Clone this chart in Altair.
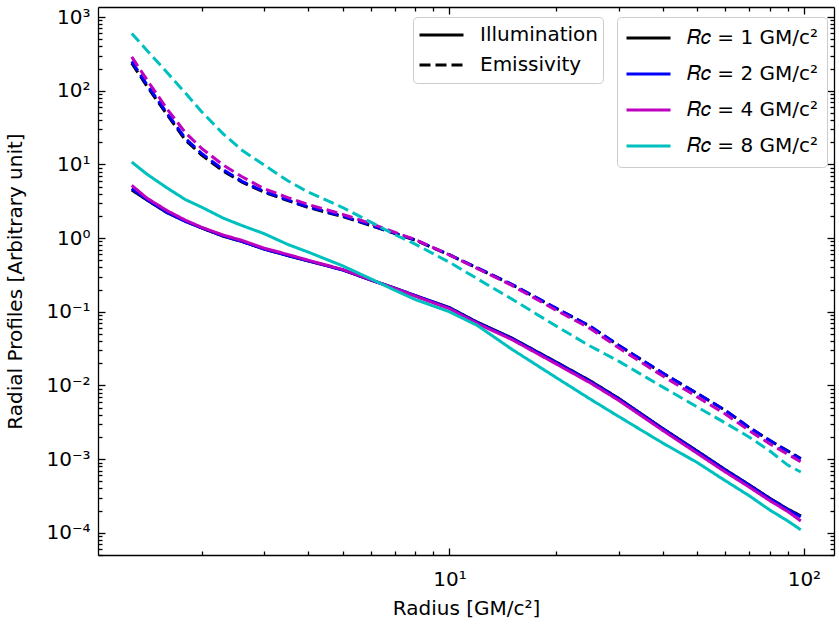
import altair as alt
import pandas as pd

# ---------------- data ----------------
radius = [1.27, 1.4, 1.6, 1.8, 2.0, 2.3, 2.6, 3.0, 3.5, 4, 5, 6, 7, 8, 10,
          12, 15, 20, 25, 30, 40, 50, 60, 70, 80, 90, 98]

rc_labels = ["𝑅𝑐 = 1 GM/c²", "𝑅𝑐 = 2 GM/c²", "𝑅𝑐 = 4 GM/c²", "𝑅𝑐 = 8 GM/c²"]
rc_colors = ["#000000", "#0000ff", "#bf00bf", "#00bfbf"]
profiles = ["Illumination", "Emissivity"]

illum_rc1 = [4.5, 3.3, 2.2, 1.7, 1.37, 1.06, 0.9, 0.71, 0.58, 0.49, 0.37, 0.27, 0.21, 0.166, 0.114,
             0.072, 0.044, 0.0208, 0.0115, 6.7e-3, 2.6e-3, 1.29e-3, 7.2e-4, 4.5e-4, 2.96e-4, 2.1e-4, 1.7e-4]
illum_rc2 = [4.7, 3.35, 2.22, 1.68, 1.38, 1.07, 0.9, 0.71, 0.58, 0.49, 0.37, 0.27, 0.21, 0.166, 0.113,
             0.071, 0.0435, 0.0205, 0.0113, 6.6e-3, 2.57e-3, 1.27e-3, 7.1e-4, 4.45e-4, 2.92e-4, 2.07e-4, 1.65e-4]
illum_rc4 = [5.2, 3.5, 2.35, 1.75, 1.4, 1.1, 0.93, 0.73, 0.6, 0.5, 0.375, 0.272, 0.208, 0.163, 0.11,
             0.069, 0.042, 0.0196, 0.0108, 6.3e-3, 2.45e-3, 1.2e-3, 6.7e-4, 4.2e-4, 2.75e-4, 1.95e-4, 1.45e-4]
illum_rc8 = [10.8, 7.4, 4.77, 3.33, 2.63, 1.87, 1.48, 1.15, 0.82, 0.645, 0.42, 0.28, 0.197, 0.147, 0.1,
             0.065, 0.031, 0.0128, 6.5e-3, 3.8e-3, 1.65e-3, 9.0e-4, 5.1e-4, 3.2e-4, 2.05e-4, 1.45e-4, 1.1e-4]

emis_rc1 = [237, 116, 47, 21.4, 13.4, 8.1, 5.75, 4.2, 3.23, 2.6, 1.96, 1.48, 1.16, 0.94, 0.59,
            0.39, 0.234, 0.111, 0.063, 0.035, 0.0146, 7.8e-3, 4.6e-3, 2.7e-3, 1.8e-3, 1.3e-3, 1.02e-3]
emis_rc2 = [250, 122, 49, 22.5, 14.1, 8.5, 5.9, 4.3, 3.3, 2.65, 2.0, 1.5, 1.17, 0.95, 0.595,
            0.395, 0.236, 0.112, 0.0635, 0.0352, 0.0147, 7.8e-3, 4.6e-3, 2.7e-3, 1.8e-3, 1.28e-3, 1.0e-3]
emis_rc4 = [288, 142, 56, 27, 16.5, 9.8, 6.8, 4.7, 3.55, 2.85, 2.1, 1.58, 1.2, 0.96, 0.59,
            0.385, 0.228, 0.105, 0.059, 0.0325, 0.0134, 7.0e-3, 4.1e-3, 2.45e-3, 1.62e-3, 1.17e-3, 9.2e-4]
emis_rc8 = [600, 355, 176, 93, 52, 26, 15.6, 9.8, 6.0, 4.2, 2.6, 1.65, 1.12, 0.83, 0.47,
            0.28, 0.149, 0.064, 0.034, 0.0214, 0.0095, 5.1e-3, 3.1e-3, 2.0e-3, 1.3e-3, 8.3e-4, 6.7e-4]

illum = [illum_rc1, illum_rc2, illum_rc4, illum_rc8]
emis = [emis_rc1, emis_rc2, emis_rc4, emis_rc8]

rows = []
for lab, il, em in zip(rc_labels, illum, emis):
    for r, v in zip(radius, il):
        rows.append({"r": r, "v": v, "rc": lab, "profile": "Illumination"})
    for r, v in zip(radius, em):
        rows.append({"r": r, "v": v, "rc": lab, "profile": "Emissivity"})
df = pd.DataFrame(rows)

# ---------------- axes ----------------
x_ticks = [m * 10 ** e for e in (0, 1) for m in range(1, 10)] + [100]
x_ticks = [t for t in x_ticks if 1.02 <= t <= 121]
y_ticks = [m * 10.0 ** e for e in range(-5, 4) for m in range(1, 10)]
y_ticks = [t for t in y_ticks if 5e-5 <= t <= 1.37e3]

is_major = "abs(log(datum.value)/LN10 - round(log(datum.value)/LN10)) < 0.000001"
sup = "['⁻⁵','⁻⁴','⁻³','⁻²','⁻¹','⁰','¹','²','³']"
label_expr = f"{is_major} ? '10' + {sup}[round(log(datum.value)/LN10) + 5] : ''"
tick_size = {"condition": {"test": is_major, "value": -7}, "value": -4}

base_axis = dict(grid=False, domain=True, domainColor="black", domainWidth=1.3,
                 tickColor="black", tickWidth=1.3, tickSize=tick_size)
text_axis = dict(labelFont="DejaVu Sans", labelFontSize=20, labelColor="black",
                 titleFont="DejaVu Sans", titleFontSize=20, titleFontWeight="normal",
                 titleColor="black")

x_scale = alt.Scale(type="log", domain=[1.02, 121.6], nice=False)
y_scale = alt.Scale(type="log", domain=[5.0e-5, 1.37e3], nice=False)

x_axis = alt.Axis(orient="bottom", values=x_ticks, labelExpr=label_expr,
                  title="Radius [GM/c²]", labelPadding=21,
                  titleX=368, titleY=53, titleBaseline="middle", titleAlign="center",
                  **base_axis, **text_axis)
y_axis = alt.Axis(orient="left", values=y_ticks, labelExpr=label_expr,
                  title="Radial Profiles [Arbitrary unit]", labelPadding=15,
                  titleX=-83, titleY=274, titleAngle=270, titleBaseline="middle",
                  titleAlign="center", **base_axis, **text_axis)

x_axis_top = alt.Axis(orient="top", values=x_ticks, labels=False, title=None, **base_axis)
y_axis_right = alt.Axis(orient="right", values=y_ticks, labels=False, title=None, **base_axis)

legend_common = dict(orient="none", direction="vertical", title=None,
                     symbolType="stroke", symbolStrokeWidth=3, symbolSize=1936,
                     clipHeight=26,
                     labelFont="DejaVu Sans", labelFontSize=20, labelColor="black",
                     labelOffset=15, strokeColor="#cccccc", fillColor="rgba(255,255,255,0.8)",
                     cornerRadius=4)

color = alt.Color("rc:N", scale=alt.Scale(domain=rc_labels, range=rc_colors),
                  legend=alt.Legend(legendX=519, legendY=10, padding=8, rowPadding=10,
                                    symbolDash=[1, 0], **legend_common))
dash = alt.StrokeDash("profile:N", scale=alt.Scale(domain=profiles, range=[[1, 0], [11, 5]]),
                      legend=alt.Legend(legendX=315, legendY=10, padding=5, rowPadding=4,
                                        symbolStrokeColor="black", **legend_common))

base = alt.Chart(df)
lines = alt.layer(*[
    base.transform_filter(alt.datum.rc == lab).mark_line(strokeWidth=3).encode(
        x=alt.X("r:Q", scale=x_scale, axis=x_axis),
        y=alt.Y("v:Q", scale=y_scale, axis=y_axis),
        color=color,
        strokeDash=dash,
    )
    for lab in rc_labels
])

frame = base.mark_line(strokeOpacity=0).encode(
    x=alt.X("r:Q", scale=x_scale, axis=x_axis_top),
    y=alt.Y("v:Q", scale=y_scale, axis=y_axis_right),
    detail="rc:N",
)

chart = alt.layer(lines, frame).resolve_axis(x="independent", y="independent").properties(
    width=736, height=548,
    autosize=alt.AutoSizeParams(type="none"),
    padding={"left": 98, "top": 7, "right": 5, "bottom": 72},
).configure_view(stroke=None).configure(background="white")

chart.save("out.html", embed_options={"renderer": "svg", "actions": False})
